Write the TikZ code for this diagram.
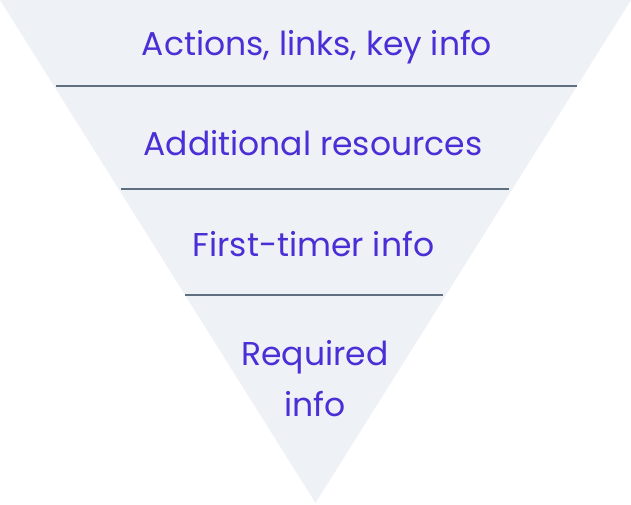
\documentclass[tikz,border=0pt]{standalone}
\usepackage{fontspec}
\setmainfont{Poppins}
\usetikzlibrary{positioning}
\definecolor{funnelfill}{HTML}{EEF1F5}
\definecolor{divider}{HTML}{5F6F80}
\definecolor{labelblue}{HTML}{4A2ED6}
\tikzset{
  layer/.style={text=labelblue, font=\fontsize{33}{40}\selectfont, align=center, inner sep=0pt, anchor=base},
  divline/.style={draw=divider, line width=1.6pt}
}

\begin{document}
\begin{tikzpicture}[x=1pt,y=-1pt]
    % Define points
    \coordinate (TL) at (0,0);
    \coordinate (TR) at (631,0);
    \coordinate (Tip) at (315.5,503);
    \useasboundingbox (0,0) rectangle (631,505);
    % Funnel
    \fill[funnelfill] (TL) -- (TR) -- (Tip) -- cycle;
    % Dividers
    \coordinate (D1a) at (56,86);  \coordinate (D1b) at (577,86);
    \coordinate (D2a) at (121,189); \coordinate (D2b) at (509,189);
    \coordinate (D3a) at (185,295); \coordinate (D3b) at (443,295);
    \draw[divline] (D1a) -- (D1b);
    \draw[divline] (D2a) -- (D2b);
    \draw[divline] (D3a) -- (D3b);
    % Layer labels (placed on their baselines, last line for the two-line one)
    \node[layer] (actions) at (317,56) {Actions, links, key info};
    \node[layer] (resources) at (313,156) {Additional resources};
    \node[layer] (firsttimer) at (313.5,256) {First-timer info};
    \node[layer, font=\fontsize{33}{51}\selectfont] (required) at (315,416) {Required\\info};
\end{tikzpicture}
\end{document}
